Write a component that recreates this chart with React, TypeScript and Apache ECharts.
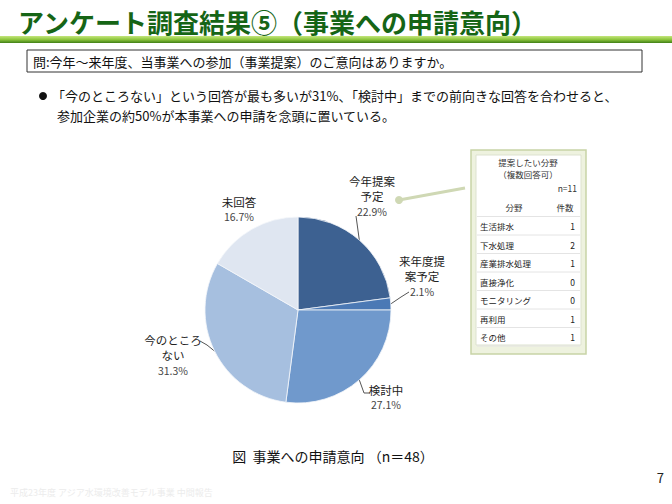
import React, { useEffect, useRef } from "react";
import * as echarts from "echarts";

const categories = ["今年提案予定", "来年度提案予定", "検討中", "今のところない", "未回答"];
const labelNames = ["今年提案\n予定", "来年度提\n案予定", "検討中", "今のところ\nない", "未回答"];
const counts = [11, 1, 13, 15, 8];
const sliceColors = ["#3d6191", "#4b79b5", "#7099cc", "#a6bfdf", "#dfe6f1"];

const fieldNames = ["生活排水", "下水処理", "産業排水処理", "直接浄化", "モニタリング", "再利用", "その他"];
const fieldCounts = [1, 2, 1, 0, 0, 1, 1];

const FONT = "'Noto Sans CJK JP', 'Noto Sans', sans-serif";

export default function App() {
  const ref = useRef<HTMLDivElement>(null);
  useEffect(() => {
    if (!ref.current) return;
    const chart = echarts.init(ref.current, null, { renderer: "svg" });
    const total = counts.reduce((a, b) => a + b, 0);

    const labelPos: any[] = [
      { x: 372, y: 196, line: [[356, 216], [356, 216]] },
      { x: 422, y: 276, line: [[401, 297], [409, 292]] },
      { x: 386, y: 397, line: [[364, 393], [370, 393]] },
      { x: 173, y: 355, line: [[207, 345], [200, 341]] },
      { x: 239, y: 209, line: null },
    ];

    const graphics: any[] = [];
    graphics.push({
      type: "rect",
      shape: { x: 0, y: 36, width: 672, height: 7 },
      style: {
        fill: new echarts.graphic.LinearGradient(0, 0, 0, 1, [
          { offset: 0, color: "#c4e67c" },
          { offset: 0.5, color: "#8ec63e" },
          { offset: 1, color: "#3f7f16" },
        ]),
      },
      silent: true,
    });
    graphics.push({
      type: "text",
      x: 18,
      y: 21,
      style: {
        text: "アンケート調査結果⑤（事業への申請意向）",
        font: `bold 26px ${FONT}`,
        fill: "#166516",
        verticalAlign: "middle",
        align: "left",
        lineHeight: 28,
      },
    });
    graphics.push({
      type: "rect",
      shape: { x: 27, y: 50, width: 615, height: 22 },
      style: { fill: "#fff", stroke: "#333", lineWidth: 1 },
    });
    graphics.push({
      type: "text",
      x: 33,
      y: 61,
      style: {
        text: "問:今年～来年度、当事業への参加（事業提案）のご意向はありますか。",
        font: `13px ${FONT}`,
        fill: "#111",
        verticalAlign: "middle",
        lineHeight: 14,
      },
    });
    graphics.push({
      type: "circle",
      shape: { cx: 43, cy: 96, r: 4 },
      style: { fill: "#111" },
    });
    graphics.push({
      type: "text",
      x: 52,
      y: 95.5,
      style: {
        text: "「今のところない」という回答が最も多いが31%、「検討中」までの前向きな回答を合わせると、",
        font: `13px ${FONT}`,
        fill: "#111",
        verticalAlign: "middle",
        lineHeight: 14,
      },
    });
    graphics.push({
      type: "text",
      x: 57,
      y: 115.5,
      style: {
        text: "参加企業の約50%が本事業への申請を念頭に置いている。",
        font: `13px ${FONT}`,
        fill: "#111",
        verticalAlign: "middle",
        lineHeight: 14,
      },
    });
    graphics.push({
      type: "line",
      shape: { x1: 399, y1: 200, x2: 465, y2: 188 },
      style: { stroke: "#cfd8b4", lineWidth: 3 },
    });
    graphics.push({
      type: "circle",
      shape: { cx: 399, cy: 200, r: 4 },
      style: { fill: "#cfd8b4" },
    });
    graphics.push({
      type: "rect",
      shape: { x: 471, y: 150, width: 115, height: 204 },
      style: { fill: "#eef2df", stroke: "#c8d3a6", lineWidth: 1.5 },
    });
    graphics.push({
      type: "rect",
      shape: { x: 476, y: 155, width: 105, height: 190 },
      style: { fill: "#fff", stroke: "#dde2cf", lineWidth: 1 },
    });
    const tf = `8.5px ${FONT}`;
    graphics.push({
      type: "text",
      x: 528,
      y: 168,
      style: { text: "提案したい分野\n（複数回答可）", font: tf, fill: "#333", align: "center", verticalAlign: "middle", lineHeight: 12.5 },
    });
    graphics.push({
      type: "text",
      x: 577,
      y: 188,
      style: { text: "n=11", font: tf, fill: "#333", align: "right", verticalAlign: "middle", lineHeight: 10 },
    });
    graphics.push({
      type: "text",
      x: 514,
      y: 207,
      style: { text: "分野", font: tf, fill: "#333", align: "center", verticalAlign: "middle", lineHeight: 10 },
    });
    graphics.push({
      type: "text",
      x: 565,
      y: 207,
      style: { text: "件数", font: tf, fill: "#333", align: "center", verticalAlign: "middle", lineHeight: 10 },
    });
    const rowH = 18.5;
    for (let i = 1; i <= fieldNames.length + 1; i++) {
      const ly = 198 + i * rowH;
      graphics.push({
        type: "line",
        shape: { x1: 477, y1: ly, x2: 580, y2: ly },
        style: { stroke: "#e4e4e4", lineWidth: 1 },
      });
    }
    fieldNames.forEach((name, i) => {
      const cy = 226 + i * rowH;
      graphics.push({
        type: "text",
        x: 480,
        y: cy,
        style: { text: name, font: tf, fill: "#222", align: "left", verticalAlign: "middle", lineHeight: 10 },
      });
      graphics.push({
        type: "text",
        x: 575,
        y: cy,
        style: { text: String(fieldCounts[i]), font: tf, fill: "#222", align: "right", verticalAlign: "middle", lineHeight: 10 },
      });
    });
    graphics.push({
      type: "text",
      x: 333,
      y: 456,
      style: { text: "図  事業への申請意向 （n＝48）", font: `14px ${FONT}`, fill: "#111", align: "center", verticalAlign: "middle", lineHeight: 16 },
    });
    graphics.push({
      type: "text",
      x: 664,
      y: 477,
      style: { text: "7", font: `13px ${FONT}`, fill: "#222", align: "right", verticalAlign: "middle", lineHeight: 14 },
    });
    graphics.push({
      type: "text",
      x: 10,
      y: 492,
      style: { text: "平成23年度 アジア水環境改善モデル事業 中間報告", font: `9px ${FONT}`, fill: "#ececec", align: "left", verticalAlign: "middle", lineHeight: 10 },
    });

    chart.setOption({
      animation: false,
      backgroundColor: "#fff",
      graphic: graphics,
      series: [
        {
          type: "pie",
          center: [298, 310],
          radius: 93,
          startAngle: 90,
          clockwise: true,
          avoidLabelOverlap: false,
          itemStyle: { borderColor: "#f4f6fa", borderWidth: 0.8 },
          data: categories.map((name, i) => ({
            name,
            value: counts[i],
            itemStyle: { color: sliceColors[i] },
            labelLine: { show: labelPos[i].line !== null },
          })),
          label: {
            show: true,
            position: "outside",
            formatter: (p: any) =>
              `{n|${labelNames[p.dataIndex]}}\n{v|${((counts[p.dataIndex] / total) * 100).toFixed(1)}%}`,
            rich: {
              n: { fontSize: 11.5, lineHeight: 15, color: "#222", fontFamily: FONT },
              v: { fontSize: 10.5, lineHeight: 15, color: "#444", fontFamily: FONT },
            },
            align: "center",
          },
          labelLine: { show: true, lineStyle: { color: "#555", width: 1 } },
          labelLayout: (params: any) => {
            const cfg = labelPos[params.dataIndex];
            const res: any = { x: cfg.x, y: cfg.y, align: "center", verticalAlign: "middle" };
            if (cfg.line && params.labelLinePoints) {
              res.labelLinePoints = [params.labelLinePoints[0], cfg.line[0], cfg.line[1]];
            }
            return res;
          },
        },
      ],
    });
    return () => chart.dispose();
  }, []);
  return <div ref={ref} style={{ position: "fixed", left: 0, top: 0, width: 672, height: 504 }} />;
}
